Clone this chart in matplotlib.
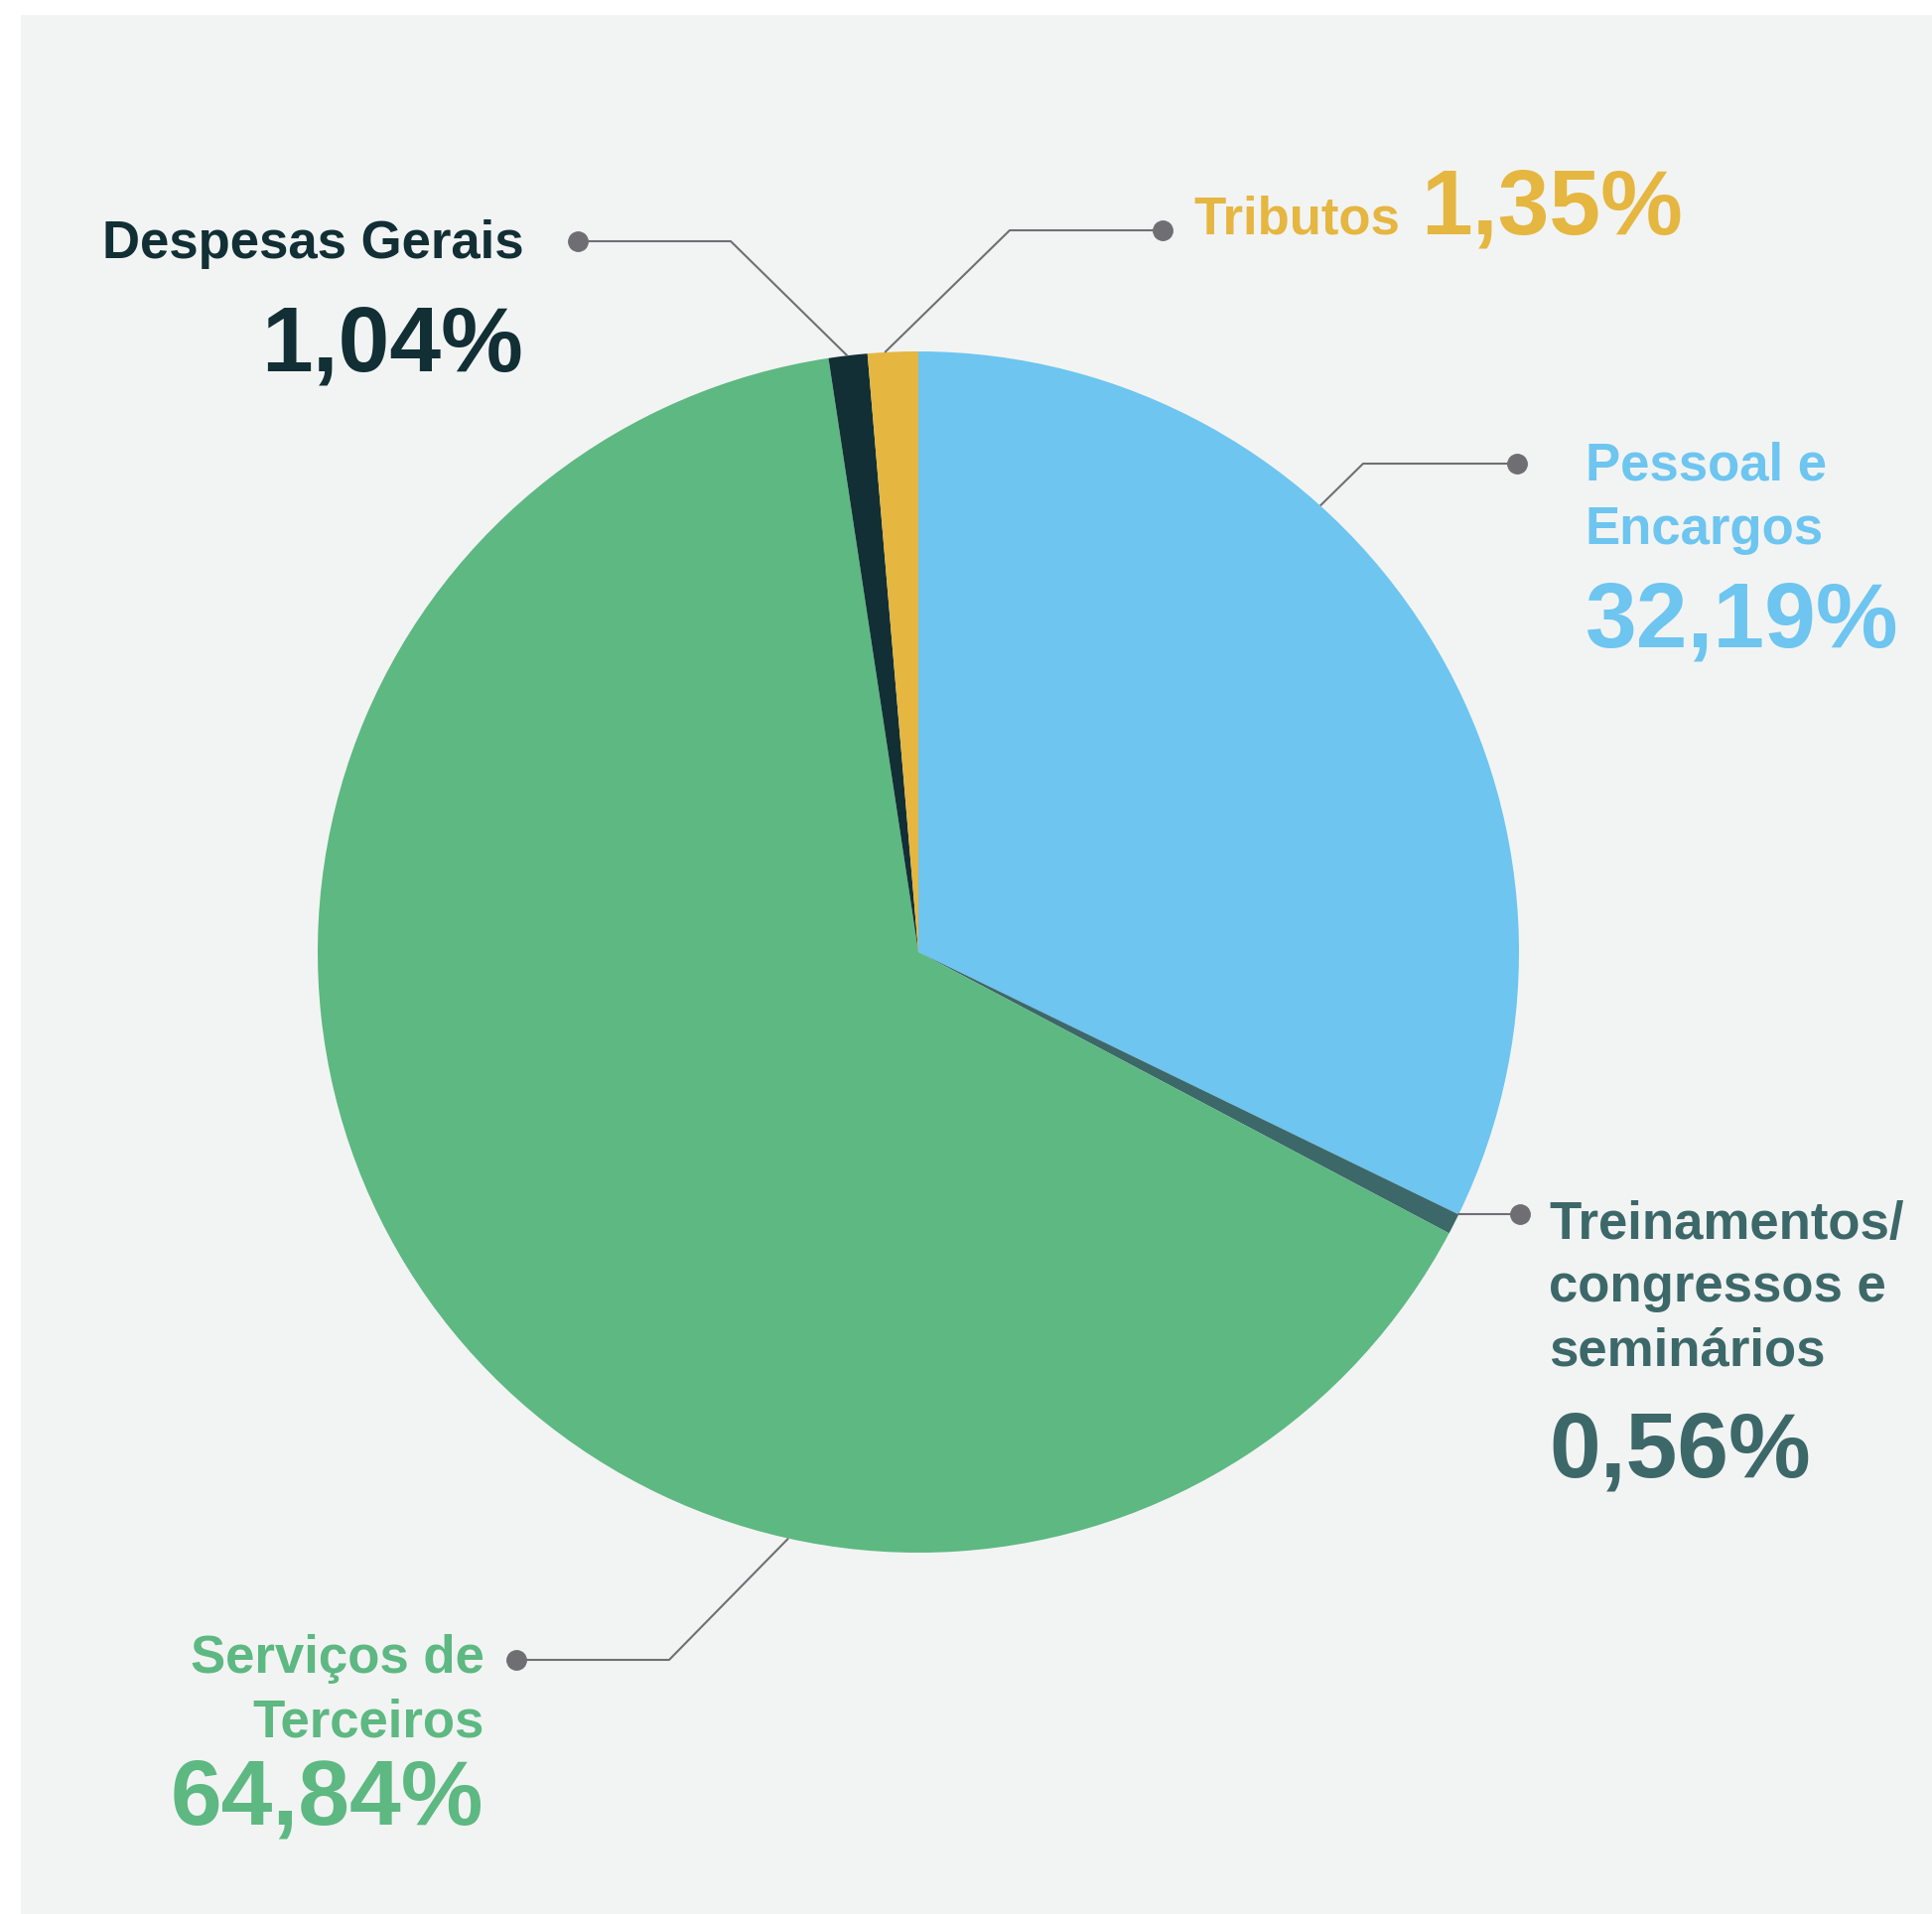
import matplotlib
matplotlib.use("Agg")
import matplotlib.pyplot as plt
from matplotlib.patches import Rectangle
import numpy as np

# data (clockwise from the top)
categories = ["Pessoal e Encargos", "Treinamentos/ congressos e seminários",
              "Serviços de Terceiros", "Despesas Gerais", "Tributos"]
values = [32.19, 0.56, 64.84, 1.04, 1.35]
pct_labels = ["32,19%", "0,56%", "64,84%", "1,04%", "1,35%"]
label_lines = [["Pessoal e", "Encargos"],
               ["Treinamentos/", "congressos e", "seminários"],
               ["Serviços de", "Terceiros"],
               ["Despesas Gerais"],
               ["Tributos"]]
colors = ["#6dc5f0", "#3d6869", "#5db882", "#112f35", "#e5b640"]

W, H = 1946, 1928
cx, cy, R = 925, 959, 605
BG = "#f2f4f3"
LINE = "#6f6f73"

plt.rcParams['font.family'] = ['Liberation Sans', 'DejaVu Sans']
plt.rcParams['font.weight'] = 'bold'

fig = plt.figure(figsize=(W / 100, H / 100), dpi=100)
fig.patch.set_facecolor("white")
ax = fig.add_axes([0, 0, 1, 1])
ax.add_patch(Rectangle((21, 15), W - 21, H - 15, facecolor=BG, edgecolor='none', zorder=0))

# y axis is inverted below, so counterclock in data = clockwise on screen
ax.pie(values, colors=colors, startangle=-90, counterclock=True,
       center=(cx, cy), radius=R, frame=True,
       wedgeprops=dict(linewidth=0, antialiased=True))
ax.set_xlim(0, W)
ax.set_ylim(H, 0)  # pixel coords, y down
ax.set_aspect('equal')
ax.axis('off')

# label layout: (text x, ha, line baselines, pct x, pct baseline, dot, elbow, edge angle)
layout = [
    dict(tx=1597, ha='left', bl=[483, 548], px=1597, pb=652,
         dot=(1528, 467), elbow=(1373, 467), ang=48.0),
    dict(tx=1560, ha='left', bl=[1248, 1311, 1375], px=1560, pb=1488,
         dot=(1531, 1223), elbow=None, ang=-26.1),
    dict(tx=488, ha='right', bl=[1685, 1749], px=487, pb=1838,
         dot=(520, 1672), elbow=(674, 1672), ang=-102.5),
    dict(tx=528, ha='right', bl=[260], px=527, pb=373,
         dot=(582, 243), elbow=(736, 243), ang=96.8),
    dict(tx=1202, ha='left', bl=[236], px=1431, pb=236,
         dot=(1171, 232), elbow=(1017, 232), ang=93.2),
]

for i, lay in enumerate(layout):
    c = colors[i]
    for line, b in zip(label_lines[i], lay['bl']):
        ax.text(lay['tx'], b, line, ha=lay['ha'], va='baseline',
                fontsize=38, fontweight='bold', color=c)
    ax.text(lay['px'], lay['pb'], pct_labels[i], ha=lay['ha'], va='baseline',
            fontsize=67, fontweight='bold', color=c)

    a = np.radians(lay['ang'])
    edge = (cx + R * np.cos(a), cy - R * np.sin(a))
    if lay['elbow'] is None:
        pts = [lay['dot'], (edge[0], lay['dot'][1])]
    else:
        pts = [lay['dot'], lay['elbow'], edge]
    xs = [p[0] for p in pts]
    ys = [p[1] for p in pts]
    ax.plot(xs, ys, color=LINE, linewidth=1.5, solid_capstyle='butt', zorder=5)
    ax.plot(*lay['dot'], 'o', color=LINE, markersize=14, zorder=6)

fig.savefig("out.png", dpi=100, facecolor=fig.get_facecolor())
